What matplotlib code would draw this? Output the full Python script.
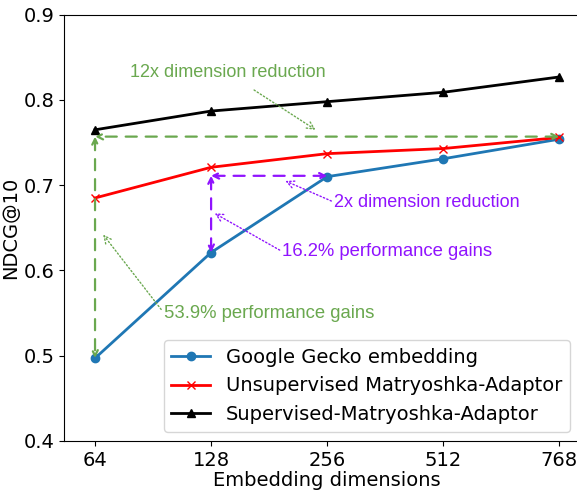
import matplotlib.pyplot as plt

# data
dims = ['64', '128', '256', '512', '768']
gecko = [0.497, 0.621, 0.710, 0.731, 0.754]
unsup = [0.685, 0.721, 0.737, 0.743, 0.756]
sup = [0.765, 0.787, 0.798, 0.809, 0.827]

green = '#6aa84f'
purple = '#9013fe'
ann_font = 'Liberation Sans'

fig = plt.figure(figsize=(5.77, 4.92), dpi=100)
ax = fig.add_axes([0.111, 0.104, 0.912, 0.866])
x = range(len(dims))

ax.plot(x, gecko, marker='o', color='#1f77b4', lw=2, ms=6, label='Google Gecko embedding')
ax.plot(x, unsup, marker='x', color='red', lw=2, ms=6, label='Unsupervised Matryoshka-Adaptor')
ax.plot(x, sup, marker='^', color='black', lw=2, ms=6, label='Supervised-Matryoshka-Adaptor')

# green: 12x reduction and 53.9% gain
ax.annotate('', xy=(0, 0.757), xytext=(4, 0.757),
            arrowprops=dict(arrowstyle='<->', color=green, lw=1.6, ls=(0, (5, 4)), shrinkA=0, shrinkB=0))
ax.annotate('', xy=(0, gecko[0]), xytext=(0, 0.757),
            arrowprops=dict(arrowstyle='<->', color=green, lw=1.6, ls=(0, (5, 4)), shrinkA=0, shrinkB=0))
ax.annotate('12x dimension reduction', xy=(1.9, 0.765), xytext=(1.14, 0.832),
            color=green, fontsize=13, family=ann_font, ha='center', va='center',
            arrowprops=dict(arrowstyle='->', color=green, ls=':', lw=1, shrinkA=8, shrinkB=0))
ax.annotate('53.9% performance gains', xy=(0.07, 0.642), xytext=(1.5, 0.550),
            color=green, fontsize=13.3, family=ann_font, ha='center', va='center',
            arrowprops=dict(arrowstyle='->', color=green, ls=':', lw=1, shrinkA=0, shrinkB=0,
                            relpos=(0, 0.5)))

# purple: 2x reduction and 16.2% gain
ax.annotate('', xy=(1, 0.711), xytext=(2, 0.711),
            arrowprops=dict(arrowstyle='<->', color=purple, lw=1.6, ls=(0, (5, 4)), shrinkA=0, shrinkB=0))
ax.annotate('', xy=(1, gecko[1]), xytext=(1, 0.711),
            arrowprops=dict(arrowstyle='<->', color=purple, lw=1.6, ls=(0, (5, 4)), shrinkA=0, shrinkB=0))
ax.annotate('2x dimension reduction', xy=(1.64, 0.705), xytext=(2.86, 0.680),
            color=purple, fontsize=13, family=ann_font, ha='center', va='center',
            arrowprops=dict(arrowstyle='->', color=purple, ls=':', lw=1, shrinkA=0, shrinkB=0,
                            relpos=(0, 0.5)))
ax.annotate('16.2% performance gains', xy=(1.03, 0.667), xytext=(2.52, 0.622),
            color=purple, fontsize=13.3, family=ann_font, ha='center', va='center',
            arrowprops=dict(arrowstyle='->', color=purple, ls=':', lw=1, shrinkA=0, shrinkB=0,
                            relpos=(0, 0.5)))

ax.set_xticks(list(x))
ax.set_xticklabels(dims)
ax.set_xlim(-0.267, 4.267)
ax.set_ylim(0.4, 0.9)
ax.set_yticks([0.4, 0.5, 0.6, 0.7, 0.8, 0.9])
ax.tick_params(labelsize=14)
ax.set_xlabel('Embedding dimensions', fontsize=14, labelpad=1)
ax.set_ylabel('NDCG@10', fontsize=14, labelpad=2)

ax.legend(loc='lower right', bbox_to_anchor=(0.988, 0.122), bbox_transform=fig.transFigure,
          fontsize=14, borderaxespad=0)

fig.savefig('out.png', dpi=100)
